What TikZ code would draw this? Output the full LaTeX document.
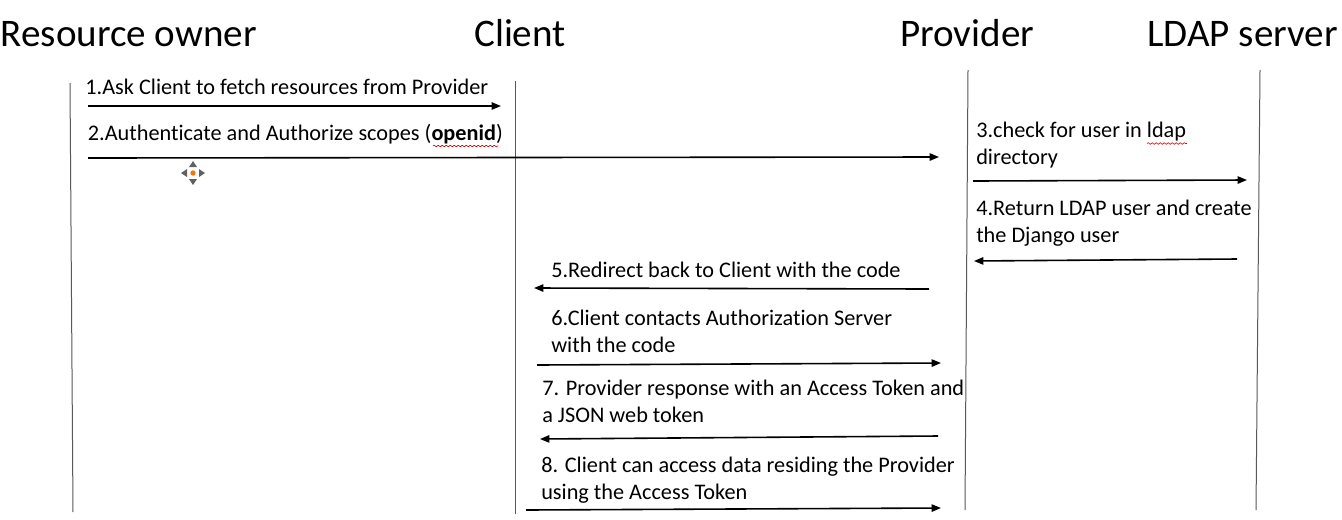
\documentclass[tikz,border=0pt]{standalone}
\usepackage{fontspec}
\setmainfont{Carlito}[Ligatures=NoCommon]
\usetikzlibrary{arrows.meta,decorations.pathmorphing}
\tikzset{
  x=0.75pt,y=-0.75pt,
  head/.style={anchor=base west,inner sep=0pt,font=\fontsize{29.3pt}{32pt}\selectfont},
  msg/.style={anchor=base west,inner sep=0pt,font=\fontsize{16.7pt}{20pt}\selectfont},
  life/.style={draw=black!65,line width=0.75pt},
  flow/.style={draw=black,line width=1.2pt,-{Triangle[length=7pt,width=5.5pt]}},
  squig/.style={draw=red!85!black,line width=0.45pt,decorate,decoration={snake,amplitude=0.6pt,segment length=3pt}},
  grip/.style={fill=black!62,draw=none}
}
\begin{document}
\begin{tikzpicture}
\useasboundingbox (0,0) rectangle (1342,519);
\fill[white] (0,0) rectangle (1342,519);
% headings
\node[head] (hA) at (0.5,46) {Resource owner};
\node[head] (hB) at (474,46) {Client};
\node[head] (hC) at (900,46) {Provider};
\node[head] (hD) at (1147,46) {LDAP server};
% lifelines
\coordinate (a1) at (70,83); \coordinate (a2) at (73,512);
\coordinate (b1) at (515,81); \coordinate (b2) at (515,514);
\coordinate (c1) at (968,70); \coordinate (c2) at (965,510);
\coordinate (d1) at (1260,70); \coordinate (d2) at (1256,510);
\draw[life] (a1)--(a2);
\draw[life] (b1)--(b2);
\draw[life] (c1)--(c2);
\draw[life] (d1)--(d2);
% labels
\node[msg] (m1) at (85,94) {1.Ask Client to fetch resources from Provider};
\node[msg] (m2) at (87.5,140) {2.Authenticate and Authorize scopes (\textbf{openid})};
\node[msg] (m3a) at (976,137) {3.check for user in ldap};
\node[msg] (m3b) at (976,164) {directory};
\node[msg] (m4a) at (976,215) {4.Return LDAP user and create};
\node[msg] (m4b) at (976,242) {the Django user};
\node[msg] (m5) at (551,277) {5.Redirect back to Client with the code};
\node[msg] (m6a) at (551,325) {6.Client contacts Authorization Server};
\node[msg] (m6b) at (551,352) {with the code};
\node[msg] (m7a) at (542,395) {7. Provider response with an Access Token and};
\node[msg] (m7b) at (542,422) {a JSON web token};
\node[msg] (m8a) at (541,472) {8. Client can access data residing the Provider};
\node[msg] (m8b) at (541,499) {using the Access Token};
% arrow ends
\coordinate (f1s) at (88,106); \coordinate (f1e) at (501,106);
\coordinate (f2s) at (88,158); \coordinate (f2e) at (939,157);
\coordinate (f3s) at (973,181); \coordinate (f3e) at (1247,180);
\coordinate (f4s) at (1237,259); \coordinate (f4e) at (974,261);
\coordinate (f5s) at (929,289); \coordinate (f5e) at (534,288);
\coordinate (f6s) at (537,365); \coordinate (f6e) at (941,363);
\coordinate (f7s) at (938,436); \coordinate (f7e) at (540,439);
\coordinate (f8s) at (526,510); \coordinate (f8e) at (941,508);
\draw[flow] (f1s)--(f1e);
\draw[flow] (f2s)--(f2e);
\draw[flow] (f3s)--(f3e);
\draw[flow] (f4s)--(f4e);
\draw[flow] (f5s)--(f5e);
\draw[flow] (f6s)--(f6e);
\draw[flow] (f7s)--(f7e);
\draw[flow] (f8s)--(f8e);
% spell-check underlines
\draw[squig] (433,146)--(498,146);
\draw[squig] (1147,143.5)--(1187,143.5);
% move cursor
\fill[grip] (193,161)--(189,167)--(197,167)--cycle;
\fill[grip] (193,185)--(189,179)--(197,179)--cycle;
\fill[grip] (181,173)--(187,169)--(187,177)--cycle;
\fill[grip] (205,173)--(199,169)--(199,177)--cycle;
\fill[orange!90!red] (193,173) circle[radius=2.7];
\end{tikzpicture}
\end{document}
